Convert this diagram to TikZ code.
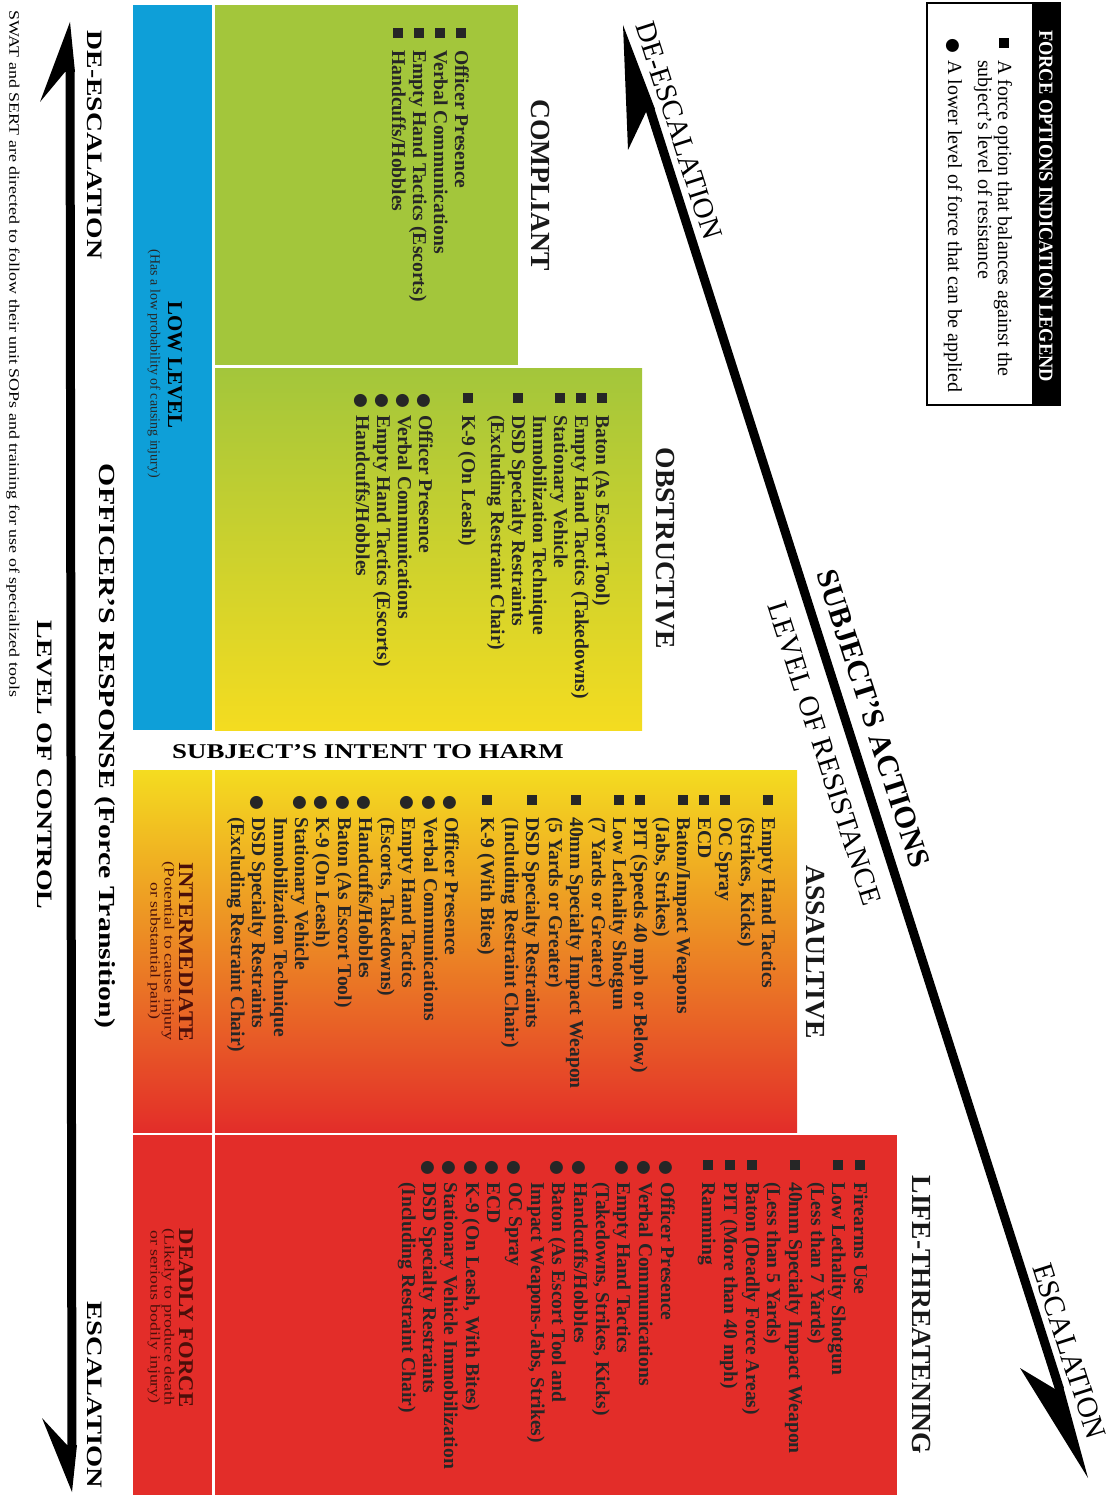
\documentclass[tikz,border=0pt]{standalone}
\usepackage{fontspec}
\setmainfont{Liberation Serif}
\newfontfamily\symfont{DejaVu Sans}
\usetikzlibrary{calc}

\definecolor{compgreen}{HTML}{A3C63B}
\definecolor{lowblue}{HTML}{0E9FD8}
\definecolor{harmyellow}{HTML}{F4DC20}
\definecolor{harmred}{HTML}{E32D29}
\definecolor{itemgray}{HTML}{262626}
\definecolor{colnote}{HTML}{4A0F0A}

\newcommand{\sqmark}{\makebox[22pt][l]{\rule[1pt]{10pt}{10pt}}}
\newcommand{\dotmark}{\makebox[22pt][l]{{\symfont\fontsize{17}{17}\selectfont ●}}}
\newcommand{\nomark}{\hspace*{22pt}}

\tikzset{
    optitem/.style={rotate=-90, anchor=base west, inner sep=0pt, text=itemgray,
        font=\bfseries\fontsize{19.6}{21}\selectfont},
    legitem/.style={rotate=-90, anchor=base west, inner sep=0pt,
        font=\fontsize{20}{20}\selectfont},
    legtitle/.style={rotate=-90, inner sep=0pt, text=white, xscale=0.92,
        font=\bfseries\fontsize{20}{20}\selectfont},
    colhead/.style={rotate=-90, inner sep=0pt, text=black!90,
        font=\bfseries\fontsize{27.6}{27.6}\selectfont},
    sidehead/.style={rotate=-90, inner sep=0pt, xscale=1.27,
        font=\bfseries\fontsize{22}{22}\selectfont},
    levelhead/.style={rotate=-90, inner sep=0pt, xscale=1.08,
        font=\bfseries\fontsize{21}{21}\selectfont},
    levelnote/.style={rotate=-90, inner sep=0pt, align=center, xscale=1.28,
        font=\fontsize{14}{14}\selectfont},
    diaglabel/.style={rotate=-72.25, inner sep=0pt,
        font=\fontsize{29}{29}\selectfont},
    shaftline/.style={line width=9pt},
}

\begin{document}
\begin{tikzpicture}[x=1pt, y=-1pt]
\useasboundingbox (0,0) rectangle (1118,1495);

% level columns and resistance boxes
\fill[lowblue] (133,5) rectangle (212,730);
\fill[compgreen] (215,5) rectangle (518,365);
\fill[top color=compgreen, bottom color=harmyellow] (215,368) rectangle (642,730);
\fill[top color=harmyellow, bottom color=harmred] (133,770) rectangle (212,1132);
\fill[top color=harmyellow, bottom color=harmred] (215,770) rectangle (797,1132);
\fill[harmred] (133,1135) rectangle (212,1495);
\fill[harmred] (215,1135) rectangle (897,1495);

% legend
\draw[line width=2pt] (927,3) rectangle (1060,405);
\fill (1032,3) rectangle (1060,405);
\node[legtitle] (lg-title) at (1046,206) {FORCE OPTIONS INDICATION LEGEND};
\node[legitem] (lg1) at (998,38) {\sqmark A force option that balances against the};
\node[legitem] (lg2) at (978,38) {\nomark subject’s level of resistance};
\node[legitem] (lg3) at (948,38) {\dotmark A lower level of force that can be applied};

% subject's actions arrow
\coordinate (dg-top) at (623,25);
\coordinate (dg-bot) at (1088,1478);
\draw[shaftline, shorten <=88pt, shorten >=93pt] (dg-top) -- (dg-bot);
\fill (dg-top) -- (628,150) -- (646,112) -- (655,109) -- cycle;
\fill (dg-bot) -- (1020,1368) -- (1055,1389) -- (1063,1386) -- cycle;
\node[diaglabel] (deesc-d) at ($(dg-top)!0.077!(dg-bot)!21pt!90:(dg-bot)$) {DE-ESCALATION};
\node[diaglabel, font=\bfseries\fontsize{30.5}{30.5}\selectfont] (act) at ($(dg-top)!0.483!(dg-bot)!27pt!90:(dg-bot)$) {SUBJECT’S ACTIONS};
\node[diaglabel] (resist) at ($(dg-top)!0.495!(dg-bot)!-30pt!90:(dg-bot)$) {LEVEL OF RESISTANCE};
\node[diaglabel, font=\fontsize{29.6}{29.6}\selectfont] (esc-d) at ($(dg-top)!0.917!(dg-bot)!21pt!90:(dg-bot)$) {ESCALATION};

% officer's response arrow
\coordinate (lc-top) at (70,22);
\coordinate (lc-bot) at (72,1492);
\draw[shaftline, shorten <=48pt, shorten >=46pt] (lc-top) -- (lc-bot);
\fill (lc-top) -- (40,102) -- (65,72) -- (75,72) -- cycle;
\fill (lc-bot) -- (42,1418) -- (67,1445) -- (77,1445) -- cycle;
\node[sidehead, xscale=0.99] (deesc-l) at (95,145) {DE-ESCALATION};
\node[sidehead, xscale=1.02] (esc-l) at (95,1395) {ESCALATION};
\node[sidehead, font=\bfseries\fontsize{23}{23}\selectfont, xscale=1.02] (resp) at (105,746) {OFFICER’S RESPONSE (Force Transition)};
\node[sidehead] (ctrl) at (45,765) {LEVEL OF CONTROL};
\node[rotate=-90, inner sep=0pt, xscale=1.24, font=\fontsize{14.5}{14.5}\selectfont] (swat) at (13,354)
    {SWAT and SERT are directed to follow their unit SOPs and training for use of specialized tools};
\node[inner sep=0pt, xscale=1.28, font=\bfseries\fontsize{21}{21}\selectfont] (intent) at (368,752) {SUBJECT’S INTENT TO HARM};

% force levels
\node[levelhead, xscale=0.92] (lowlvl) at (175,365) {LOW LEVEL};
\node[levelnote, text=black!85, xscale=0.78] (lowlvl-note) at (154,364) {(Has a low probability of causing injury)};
\node[levelhead, text=colnote] (interm) at (186,952) {INTERMEDIATE};
\node[levelnote, text=colnote] (interm-note) at (161,951) {(Potential to cause injury\\or substantial pain)};
\node[levelhead, text=colnote] (deadly) at (186,1318) {DEADLY FORCE};
\node[levelnote, text=colnote] (deadly-note) at (161,1317) {(Likely to produce death\\or serious bodily injury)};

% resistance headings
\node[colhead] (compliant) at (540,185) {COMPLIANT};
\node[colhead] (obstructive) at (665,548) {OBSTRUCTIVE};
\node[colhead] (assaultive) at (815,952) {ASSAULTIVE};
\node[colhead] (lifethreat) at (921,1315) {LIFE-THREATENING};

% compliant
\node[optitem] (cm1) at (455,28) {\sqmark Officer Presence};
\node[optitem] (cm2) at (434,28) {\sqmark Verbal Communications};
\node[optitem] (cm3) at (413,28) {\sqmark Empty Hand Tactics (Escorts)};
\node[optitem] (cm4) at (392,28) {\sqmark Handcuffs/Hobbles};

% obstructive
\node[optitem] (ob1) at (596,393) {\sqmark Baton (As Escort Tool)};
\node[optitem] (ob2) at (575,393) {\sqmark Empty Hand Tactics (Takedowns)};
\node[optitem] (ob3) at (554,393) {\sqmark Stationary Vehicle};
\node[optitem] (ob4) at (533,393) {\nomark Immobilization Technique};
\node[optitem] (ob5) at (512,393) {\sqmark DSD Specialty Restraints};
\node[optitem] (ob6) at (491,393) {\nomark (Excluding Restraint Chair)};
\node[optitem] (ob7) at (462,393) {\sqmark K-9 (On Leash)};
\node[optitem] (ob8) at (419,393) {\dotmark Officer Presence};
\node[optitem] (ob9) at (398,393) {\dotmark Verbal Communications};
\node[optitem] (ob10) at (377,393) {\dotmark Empty Hand Tactics (Escorts)};
\node[optitem] (ob11) at (356,393) {\dotmark Handcuffs/Hobbles};

% assaultive
\node[optitem] (as1) at (762,795) {\sqmark Empty Hand Tactics};
\node[optitem] (as2) at (741,795) {\nomark (Strikes, Kicks)};
\node[optitem] (as3) at (719,795) {\sqmark OC Spray};
\node[optitem] (as4) at (698,795) {\sqmark ECD};
\node[optitem] (as5) at (677,795) {\sqmark Baton/Impact Weapons};
\node[optitem] (as6) at (656,795) {\nomark (Jabs, Strikes)};
\node[optitem] (as7) at (634,795) {\sqmark PIT (Speeds 40 mph or Below)};
\node[optitem] (as8) at (613,795) {\sqmark Low Lethality Shotgun};
\node[optitem] (as9) at (592,795) {\nomark (7 Yards or Greater)};
\node[optitem] (as10) at (570,795) {\sqmark 40mm Specialty Impact Weapon};
\node[optitem] (as11) at (549,795) {\nomark (5 Yards or Greater)};
\node[optitem] (as12) at (526,795) {\sqmark DSD Specialty Restraints};
\node[optitem] (as13) at (505,795) {\nomark (Including Restraint Chair)};
\node[optitem] (as14) at (481,795) {\sqmark K-9 (With Bites)};
\node[optitem] (as15) at (445,795) {\dotmark Officer Presence};
\node[optitem] (as16) at (424,795) {\dotmark Verbal Communications};
\node[optitem] (as17) at (402,795) {\dotmark Empty Hand Tactics};
\node[optitem] (as18) at (381,795) {\nomark (Escorts, Takedowns)};
\node[optitem] (as19) at (359,795) {\dotmark Handcuffs/Hobbles};
\node[optitem] (as20) at (338,795) {\dotmark Baton (As Escort Tool)};
\node[optitem] (as21) at (316,795) {\dotmark K-9 (On Leash)};
\node[optitem] (as22) at (295,795) {\dotmark Stationary Vehicle};
\node[optitem] (as23) at (274,795) {\nomark Immobilization Technique};
\node[optitem] (as24) at (252,795) {\dotmark DSD Specialty Restraints};
\node[optitem] (as25) at (231,795) {\nomark (Excluding Restraint Chair)};

% life-threatening
\node[optitem] (lt1) at (854,1160) {\sqmark Firearms Use};
\node[optitem] (lt2) at (832,1160) {\sqmark Low Lethality Shotgun};
\node[optitem] (lt3) at (811,1160) {\nomark (Less than 7 Yards)};
\node[optitem] (lt4) at (789,1160) {\sqmark 40mm Specialty Impact Weapon};
\node[optitem] (lt5) at (767,1160) {\nomark (Less than 5 Yards)};
\node[optitem] (lt6) at (746,1160) {\sqmark Baton (Deadly Force Areas)};
\node[optitem] (lt7) at (724,1160) {\sqmark PIT (More than 40 mph)};
\node[optitem] (lt8) at (702,1160) {\sqmark Ramming};
\node[optitem] (lt9) at (661,1160) {\dotmark Officer Presence};
\node[optitem] (lt10) at (639,1160) {\dotmark Verbal Communications};
\node[optitem] (lt11) at (617,1160) {\dotmark Empty Hand Tactics};
\node[optitem] (lt12) at (596,1160) {\nomark (Takedowns, Strikes, Kicks)};
\node[optitem] (lt13) at (574,1160) {\dotmark Handcuffs/Hobbles};
\node[optitem] (lt14) at (552,1160) {\dotmark Baton (As Escort Tool and};
\node[optitem] (lt15) at (531,1160) {\nomark Impact Weapons-Jabs, Strikes)};
\node[optitem] (lt16) at (509,1160) {\dotmark OC Spray};
\node[optitem] (lt17) at (487,1160) {\dotmark ECD};
\node[optitem] (lt18) at (466,1160) {\dotmark K-9 (On Leash, With Bites)};
\node[optitem] (lt19) at (444,1160) {\dotmark Stationary Vehicle Immobilization};
\node[optitem] (lt20) at (423,1160) {\dotmark DSD Specialty Restraints};
\node[optitem] (lt21) at (402,1160) {\nomark (Including Restraint Chair)};
\end{tikzpicture}
\end{document}
